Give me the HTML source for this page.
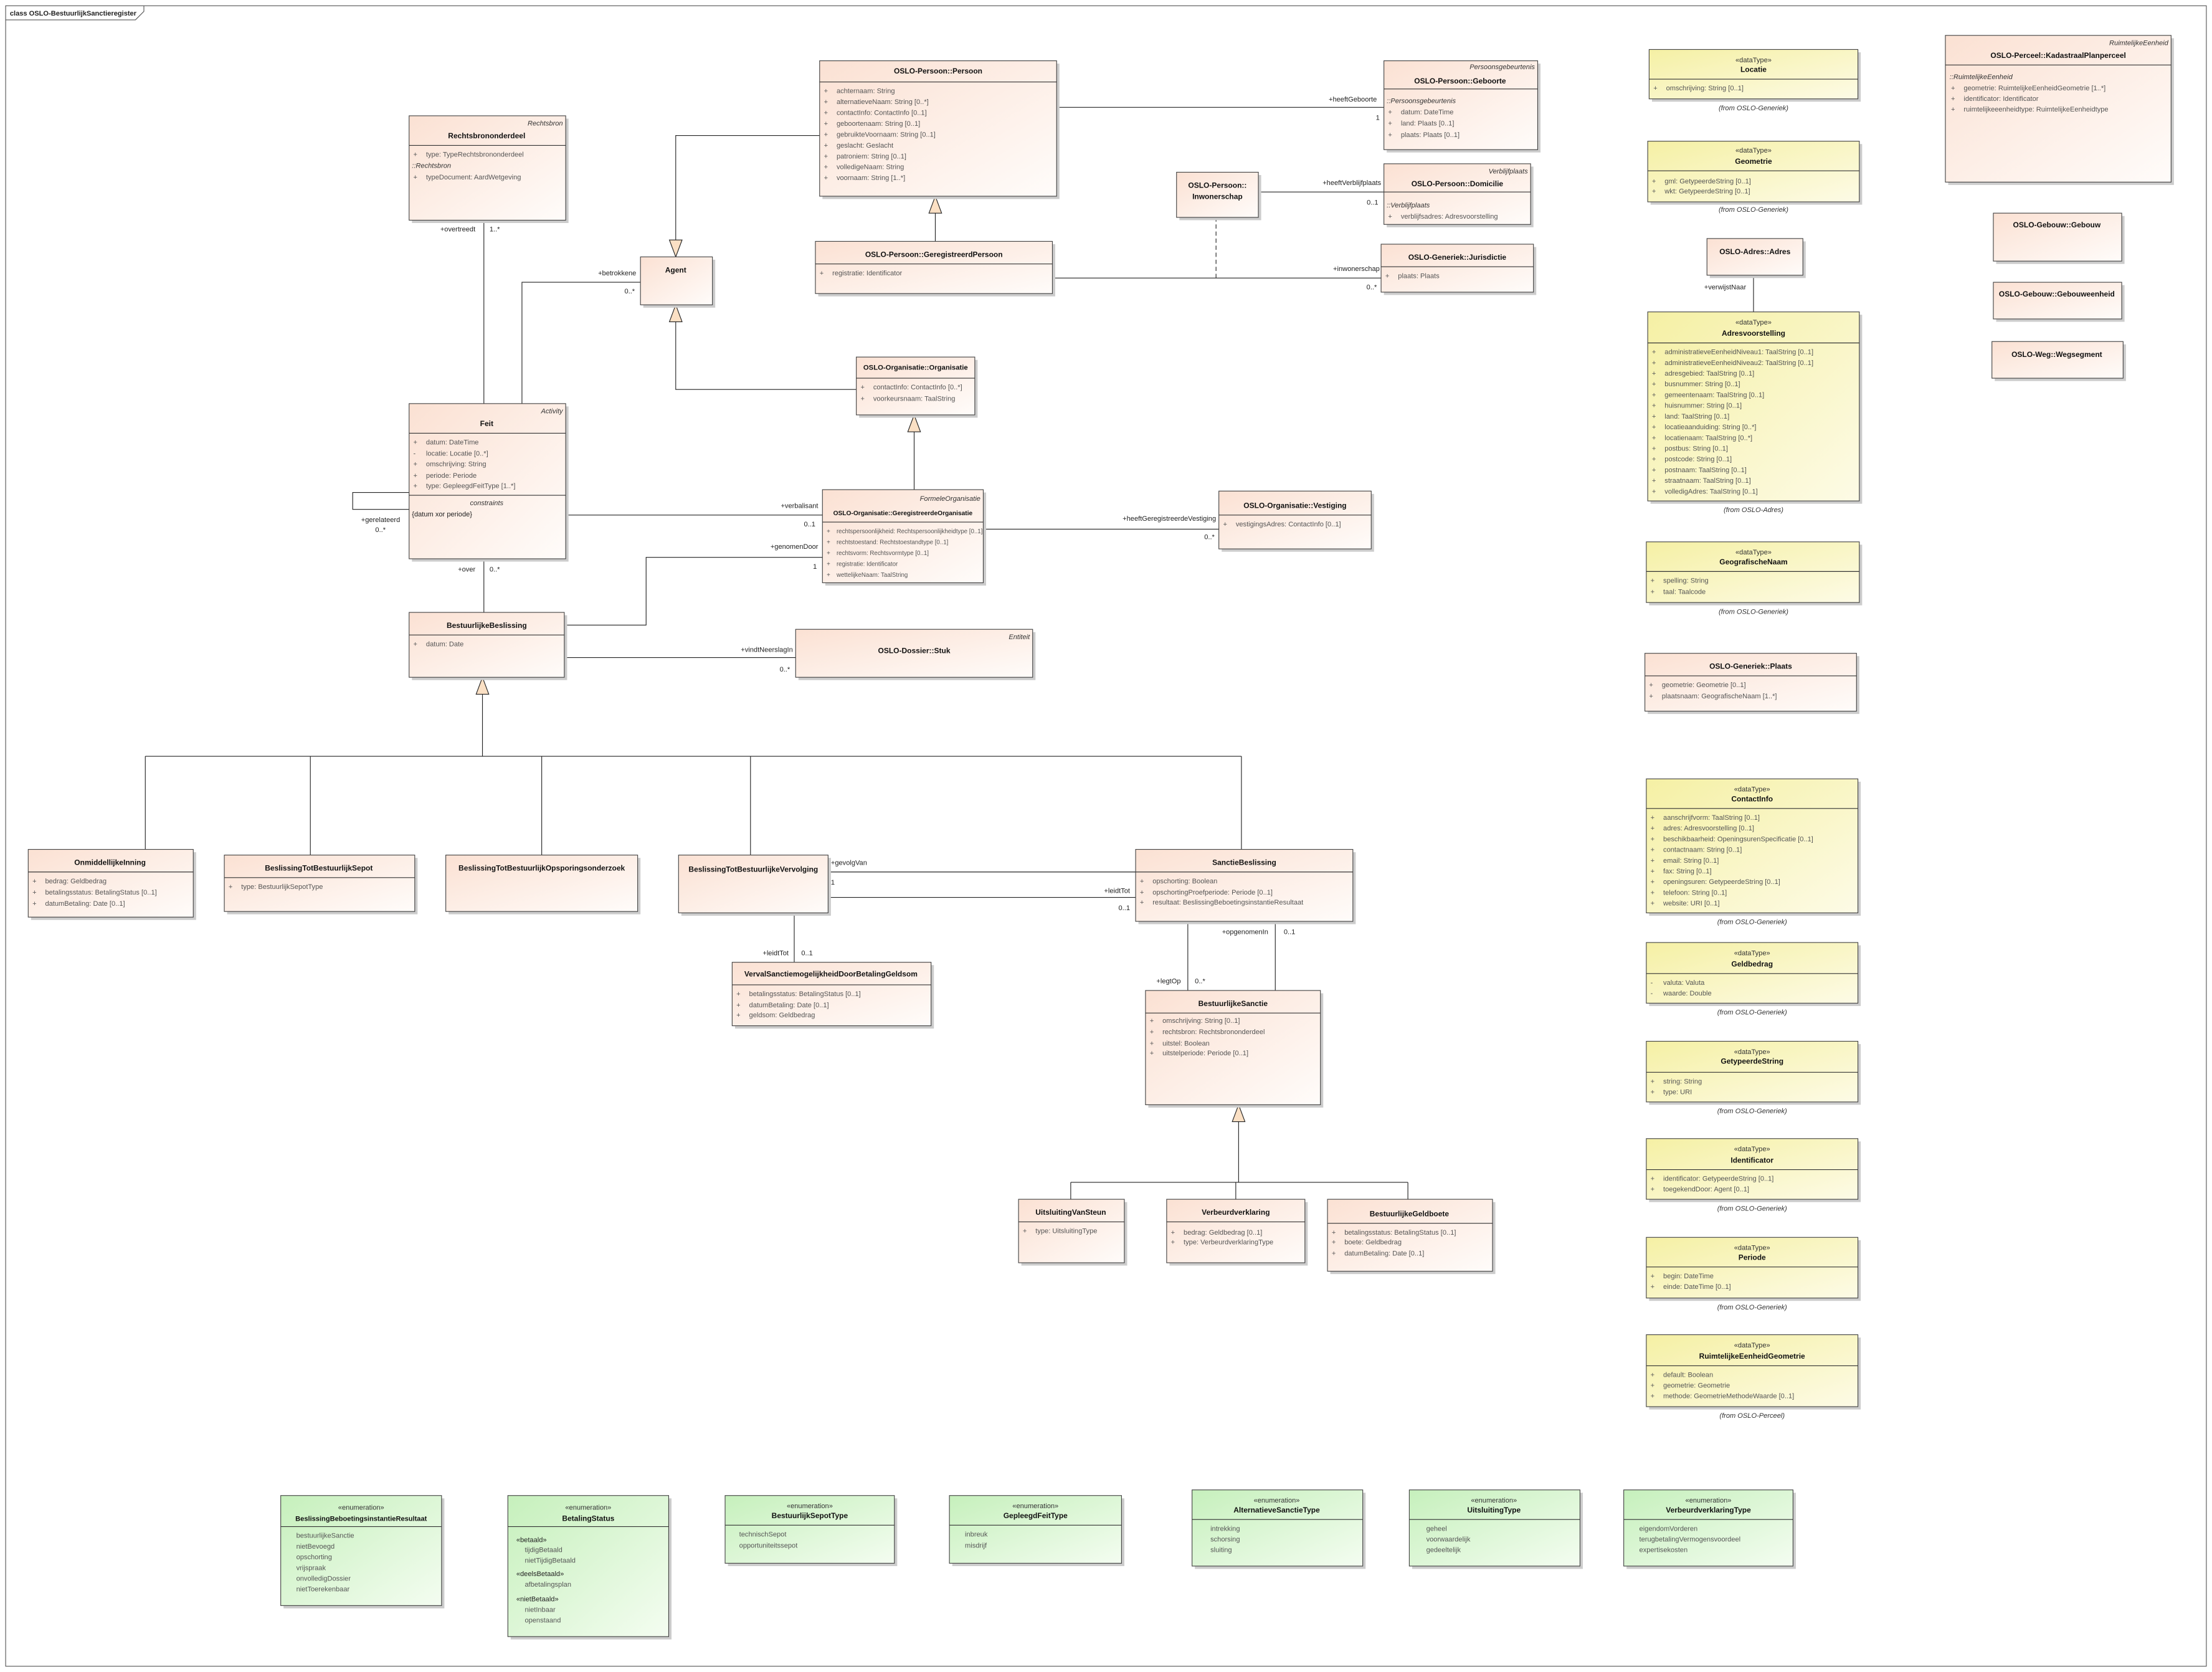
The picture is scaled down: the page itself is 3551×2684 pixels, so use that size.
<!DOCTYPE html>
<html><head><meta charset="utf-8"><style>
html,body{margin:0;padding:0;background:#fff;}
svg{display:block;}
text{font-family:"Liberation Sans",sans-serif;}
.t{font-size:5.3px;font-weight:bold;fill:#111;text-anchor:middle;}
.a{font-size:4.9px;fill:#555;}
.s{font-size:4.9px;fill:#333;text-anchor:middle;}
.i{font-size:4.9px;font-style:italic;fill:#333;}
.ir{font-size:4.9px;font-style:italic;fill:#333;text-anchor:end;}
.f{font-size:4.9px;font-style:italic;fill:#333;text-anchor:middle;}
.l{font-size:4.9px;fill:#222;}
.lr{font-size:4.9px;fill:#222;text-anchor:end;}
.bx{stroke:#444;stroke-width:0.5;}
.sh{fill:#ccc;}
.ln{stroke:#222;stroke-width:0.5;fill:none;}
.sep{stroke:#333;stroke-width:0.5;}
.tri{fill:#fbe0c4;stroke:#222;stroke-width:0.5;}
</style></head><body>
<svg width="3551" height="2684" viewBox="0 0 1568 1185" xmlns="http://www.w3.org/2000/svg">
<defs>
<linearGradient id="p" x1="0" y1="0" x2="1" y2="1"><stop offset="0" stop-color="#fbe1d3"/><stop offset="1" stop-color="#fffcfa"/></linearGradient>
<linearGradient id="y" x1="0" y1="0" x2="1" y2="1"><stop offset="0" stop-color="#f5f0a4"/><stop offset="1" stop-color="#fdfbe6"/></linearGradient>
<linearGradient id="g" x1="0" y1="0" x2="1" y2="1"><stop offset="0" stop-color="#c6f0bc"/><stop offset="1" stop-color="#f4fdf1"/></linearGradient>
</defs>
<rect x="0" y="0" width="1568" height="1185" fill="#fff"/>
<rect x="4" y="4" width="1560" height="1177" fill="none" stroke="#555" stroke-width="0.5"/>
<path d="M4 14 H96 L102 8 V4" fill="none" stroke="#555" stroke-width="0.5"/>
<text x="7" y="11" style="font-size:4.9px;font-weight:bold;fill:#222">class OSLO-BestuurlijkSanctieregister</text>

<g class="ln">
<path d="M749 76 H981"/>
<path d="M581 96 H479 V170"/>
<path d="M663 171 V151"/>
<path d="M892 136 H981"/>
<path d="M862 154 V197" stroke-dasharray="3,2"/>
<path d="M746 197 H979"/>
<path d="M343 156 V286"/>
<path d="M370 286 V200 H454"/>
<path d="M607 276 H479 V228"/>
<path d="M648 347 V306"/>
<path d="M401 365 H583"/>
<path d="M290 349 H250 V361 H290"/>
<path d="M697 375 H864"/>
<path d="M400 443 H458 V395 H583"/>
<path d="M343 396 V434"/>
<path d="M400 466 H564"/>
<path d="M342 492 V536"/>
<path d="M103 536 H880"/>
<path d="M103 536 V602 M220 536 V606 M384 536 V606 M532 536 V606 M880 536 V602"/>
<path d="M587 618 H805"/>
<path d="M587 636 H805"/>
<path d="M563 647 V682"/>
<path d="M842 653 V702"/>
<path d="M904 653 V702"/>
<path d="M878 795 V838 M759 838 H998 M759 838 V850 M876 838 V850 M998 838 V850"/>
<path d="M1243 195 V221"/>
</g>
<polygon class="tri" points="479,182 474.5,170 483.5,170"/>
<polygon class="tri" points="663,139 658.5,151 667.5,151"/>
<polygon class="tri" points="479,216 474.5,228 483.5,228"/>
<polygon class="tri" points="648,294 643.5,306 652.5,306"/>
<polygon class="tri" points="342,480 337.5,492 346.5,492"/>
<polygon class="tri" points="878,783 873.5,795 882.5,795"/>

<text class="lr" x="976" y="72">+heeftGeboorte</text><text class="lr" x="978" y="85">1</text>
<text class="lr" x="979" y="131">+heeftVerblijfplaats</text><text class="lr" x="977" y="145">0..1</text>
<text class="lr" x="978" y="192">+inwonerschap</text><text class="lr" x="976" y="205">0..*</text>
<text class="lr" x="337" y="164">+overtreedt</text><text class="l" x="347" y="164">1..*</text>
<text class="lr" x="451" y="195">+betrokkene</text><text class="lr" x="450" y="208">0..*</text>
<text class="lr" x="580" y="360">+verbalisant</text><text class="lr" x="578" y="373">0..1</text>
<text class="l" x="256" y="370">+gerelateerd</text><text class="l" x="266" y="377">0..*</text>
<text class="lr" x="862" y="369">+heeftGeregistreerdeVestiging</text><text class="lr" x="861" y="382">0..*</text>
<text class="lr" x="580" y="389">+genomenDoor</text><text class="lr" x="579" y="403">1</text>
<text class="lr" x="337" y="405">+over</text><text class="l" x="347" y="405">0..*</text>
<text class="lr" x="562" y="462">+vindtNeerslagIn</text><text class="lr" x="560" y="476">0..*</text>
<text class="l" x="589" y="613">+gevolgVan</text><text class="l" x="589" y="627">1</text>
<text class="lr" x="801" y="633">+leidtTot</text><text class="lr" x="801" y="645">0..1</text>
<text class="lr" x="559" y="677">+leidtTot</text><text class="l" x="568" y="677">0..1</text>
<text class="lr" x="837" y="697">+legtOp</text><text class="l" x="847" y="697">0..*</text>
<text class="lr" x="899" y="662">+opgenomenIn</text><text class="l" x="910" y="662">0..1</text>
<text class="l" x="1208" y="205">+verwijstNaar</text>

<rect class="sh" x="583" y="45" width="168" height="96"/>
<rect class="bx" x="581" y="43" width="168" height="96" fill="url(#p)"/>
<text class="t" x="665" y="52">OSLO-Persoon::Persoon</text>
<line class="sep" x1="581" y1="58" x2="749" y2="58"/>
<g class="a"><text x="584" y="66">+</text><text x="593" y="66">achternaam: String</text>
<text x="584" y="73.7">+</text><text x="593" y="73.7">alternatieveNaam: String [0..*]</text>
<text x="584" y="81.4">+</text><text x="593" y="81.4">contactInfo: ContactInfo [0..1]</text>
<text x="584" y="89.1">+</text><text x="593" y="89.1">geboortenaam: String [0..1]</text>
<text x="584" y="96.8">+</text><text x="593" y="96.8">gebruikteVoornaam: String [0..1]</text>
<text x="584" y="104.5">+</text><text x="593" y="104.5">geslacht: Geslacht</text>
<text x="584" y="112.2">+</text><text x="593" y="112.2">patroniem: String [0..1]</text>
<text x="584" y="119.9">+</text><text x="593" y="119.9">volledigeNaam: String</text>
<text x="584" y="127.6">+</text><text x="593" y="127.6">voornaam: String [1..*]</text></g>

<rect class="sh" x="983" y="45" width="109" height="63"/>
<rect class="bx" x="981" y="43" width="109" height="63" fill="url(#p)"/>
<text class="ir" x="1088" y="49">Persoonsgebeurtenis</text>
<text class="t" x="1035" y="59">OSLO-Persoon::Geboorte</text>
<line class="sep" x1="981" y1="63" x2="1090" y2="63"/>
<text class="i" x="983" y="73">::Persoonsgebeurtenis</text>
<g class="a"><text x="984" y="81">+</text><text x="993" y="81">datum: DateTime</text>
<text x="984" y="89">+</text><text x="993" y="89">land: Plaats [0..1]</text>
<text x="984" y="97">+</text><text x="993" y="97">plaats: Plaats [0..1]</text></g>

<rect class="sh" x="292" y="84" width="111" height="74"/>
<rect class="bx" x="290" y="82" width="111" height="74" fill="url(#p)"/>
<text class="ir" x="399" y="89">Rechtsbron</text>
<text class="t" x="345" y="98">Rechtsbrononderdeel</text>
<line class="sep" x1="290" y1="103" x2="401" y2="103"/>
<g class="a"><text x="293" y="111">+</text><text x="302" y="111">type: TypeRechtsbrononderdeel</text></g>
<text class="i" x="292" y="119">::Rechtsbron</text>
<g class="a"><text x="293" y="127">+</text><text x="302" y="127">typeDocument: AardWetgeving</text></g>

<rect class="sh" x="836" y="124" width="58" height="32"/>
<rect class="bx" x="834" y="122" width="58" height="32" fill="url(#p)"/>
<text class="t" x="863" y="133">OSLO-Persoon::</text>
<text class="t" x="863" y="141">Inwonerschap</text>

<rect class="sh" x="983" y="118" width="104" height="43"/>
<rect class="bx" x="981" y="116" width="104" height="43" fill="url(#p)"/>
<text class="ir" x="1083" y="123">Verblijfplaats</text>
<text class="t" x="1033" y="132">OSLO-Persoon::Domicilie</text>
<line class="sep" x1="981" y1="136" x2="1085" y2="136"/>
<text class="i" x="983" y="147">::Verblijfplaats</text>
<g class="a"><text x="984" y="155">+</text><text x="993" y="155">verblijfsadres: Adresvoorstelling</text></g>

<rect class="sh" x="580" y="173" width="168" height="37"/>
<rect class="bx" x="578" y="171" width="168" height="37" fill="url(#p)"/>
<text class="t" x="662" y="182">OSLO-Persoon::GeregistreerdPersoon</text>
<line class="sep" x1="578" y1="187" x2="746" y2="187"/>
<g class="a"><text x="581" y="195">+</text><text x="590" y="195">registratie: Identificator</text></g>

<rect class="sh" x="981" y="175" width="108" height="34"/>
<rect class="bx" x="979" y="173" width="108" height="34" fill="url(#p)"/>
<text class="t" x="1033" y="184">OSLO-Generiek::Jurisdictie</text>
<line class="sep" x1="979" y1="189" x2="1087" y2="189"/>
<g class="a"><text x="982" y="197">+</text><text x="991" y="197">plaats: Plaats</text></g>

<rect class="sh" x="456" y="184" width="51" height="34"/>
<rect class="bx" x="454" y="182" width="51" height="34" fill="url(#p)"/>
<text class="t" x="479" y="193">Agent</text>

<rect class="sh" x="609" y="255" width="84" height="41"/>
<rect class="bx" x="607" y="253" width="84" height="41" fill="url(#p)"/>
<text class="t" x="649" y="262" style="font-size:5px">OSLO-Organisatie::Organisatie</text>
<line class="sep" x1="607" y1="268" x2="691" y2="268"/>
<g class="a"><text x="610" y="276">+</text><text x="619" y="276">contactInfo: ContactInfo [0..*]</text>
<text x="610" y="284">+</text><text x="619" y="284">voorkeursnaam: TaalString</text></g>

<rect class="sh" x="292" y="288" width="111" height="110"/>
<rect class="bx" x="290" y="286" width="111" height="110" fill="url(#p)"/>
<text class="ir" x="399" y="293">Activity</text>
<text class="t" x="345" y="302">Feit</text>
<line class="sep" x1="290" y1="307" x2="401" y2="307"/>
<g class="a"><text x="293" y="315">+</text><text x="302" y="315">datum: DateTime</text>
<text x="293" y="323">-</text><text x="302" y="323">locatie: Locatie [0..*]</text>
<text x="293" y="330.5">+</text><text x="302" y="330.5">omschrijving: String</text>
<text x="293" y="338.5">+</text><text x="302" y="338.5">periode: Periode</text>
<text x="293" y="346">+</text><text x="302" y="346">type: GepleegdFeitType [1..*]</text></g>
<line class="sep" x1="290" y1="351" x2="401" y2="351"/>
<text class="f" x="345" y="358">constraints</text>
<text class="l" x="292" y="366">{datum xor periode}</text>

<rect class="sh" x="585" y="349" width="114" height="66"/>
<rect class="bx" x="583" y="347" width="114" height="66" fill="url(#p)"/>
<text class="ir" x="695" y="355">FormeleOrganisatie</text>
<text class="t" x="640" y="365" style="font-size:4.5px">OSLO-Organisatie::GeregistreerdeOrganisatie</text>
<line class="sep" x1="583" y1="370" x2="697" y2="370"/>
<g class="a" style="font-size:4.3px"><text x="586" y="378">+</text><text x="593" y="378">rechtspersoonlijkheid: Rechtspersoonlijkheidtype [0..1]</text>
<text x="586" y="385.7">+</text><text x="593" y="385.7">rechtstoestand: Rechtstoestandtype [0..1]</text>
<text x="586" y="393.4">+</text><text x="593" y="393.4">rechtsvorm: Rechtsvormtype [0..1]</text>
<text x="586" y="401.1">+</text><text x="593" y="401.1">registratie: Identificator</text>
<text x="586" y="408.8">+</text><text x="593" y="408.8">wettelijkeNaam: TaalString</text></g>

<rect class="sh" x="866" y="350" width="108" height="41"/>
<rect class="bx" x="864" y="348" width="108" height="41" fill="url(#p)"/>
<text class="t" x="918" y="360">OSLO-Organisatie::Vestiging</text>
<line class="sep" x1="864" y1="365" x2="972" y2="365"/>
<g class="a"><text x="867" y="373">+</text><text x="876" y="373">vestigingsAdres: ContactInfo [0..1]</text></g>

<rect class="sh" x="292" y="436" width="110" height="46"/>
<rect class="bx" x="290" y="434" width="110" height="46" fill="url(#p)"/>
<text class="t" x="345" y="445">BestuurlijkeBeslissing</text>
<line class="sep" x1="290" y1="450" x2="400" y2="450"/>
<g class="a"><text x="293" y="458">+</text><text x="302" y="458">datum: Date</text></g>

<rect class="sh" x="566" y="448" width="168" height="34"/>
<rect class="bx" x="564" y="446" width="168" height="34" fill="url(#p)"/>
<text class="ir" x="730" y="453">Entiteit</text>
<text class="t" x="648" y="463">OSLO-Dossier::Stuk</text>

<rect class="sh" x="22" y="604" width="117" height="48"/>
<rect class="bx" x="20" y="602" width="117" height="48" fill="url(#p)"/>
<text class="t" x="78" y="613">OnmiddellijkeInning</text>
<line class="sep" x1="20" y1="618" x2="137" y2="618"/>
<g class="a"><text x="23" y="626">+</text><text x="32" y="626">bedrag: Geldbedrag</text>
<text x="23" y="634">+</text><text x="32" y="634">betalingsstatus: BetalingStatus [0..1]</text>
<text x="23" y="642">+</text><text x="32" y="642">datumBetaling: Date [0..1]</text></g>

<rect class="sh" x="161" y="608" width="135" height="40"/>
<rect class="bx" x="159" y="606" width="135" height="40" fill="url(#p)"/>
<text class="t" x="226" y="617">BeslissingTotBestuurlijkSepot</text>
<line class="sep" x1="159" y1="622" x2="294" y2="622"/>
<g class="a"><text x="162" y="630">+</text><text x="171" y="630">type: BestuurlijkSepotType</text></g>

<rect class="sh" x="318" y="608" width="136" height="40"/>
<rect class="bx" x="316" y="606" width="136" height="40" fill="url(#p)"/>
<text class="t" x="384" y="617">BeslissingTotBestuurlijkOpsporingsonderzoek</text>

<rect class="sh" x="483" y="608" width="106" height="41"/>
<rect class="bx" x="481" y="606" width="106" height="41" fill="url(#p)"/>
<text class="t" x="534" y="618">BeslissingTotBestuurlijkeVervolging</text>

<rect class="sh" x="807" y="604" width="154" height="51"/>
<rect class="bx" x="805" y="602" width="154" height="51" fill="url(#p)"/>
<text class="t" x="882" y="613">SanctieBeslissing</text>
<line class="sep" x1="805" y1="618" x2="959" y2="618"/>
<g class="a"><text x="808" y="626">+</text><text x="817" y="626">opschorting: Boolean</text>
<text x="808" y="634">+</text><text x="817" y="634">opschortingProefperiode: Periode [0..1]</text>
<text x="808" y="641">+</text><text x="817" y="641">resultaat: BeslissingBeboetingsinstantieResultaat</text></g>

<rect class="sh" x="521" y="684" width="141" height="45"/>
<rect class="bx" x="519" y="682" width="141" height="45" fill="url(#p)"/>
<text class="t" x="589" y="692">VervalSanctiemogelijkheidDoorBetalingGeldsom</text>
<line class="sep" x1="519" y1="698" x2="660" y2="698"/>
<g class="a"><text x="522" y="706">+</text><text x="531" y="706">betalingsstatus: BetalingStatus [0..1]</text>
<text x="522" y="714">+</text><text x="531" y="714">datumBetaling: Date [0..1]</text>
<text x="522" y="721">+</text><text x="531" y="721">geldsom: Geldbedrag</text></g>

<rect class="sh" x="814" y="704" width="124" height="81"/>
<rect class="bx" x="812" y="702" width="124" height="81" fill="url(#p)"/>
<text class="t" x="874" y="713">BestuurlijkeSanctie</text>
<line class="sep" x1="812" y1="718" x2="936" y2="718"/>
<g class="a"><text x="815" y="725">+</text><text x="824" y="725">omschrijving: String [0..1]</text>
<text x="815" y="733">+</text><text x="824" y="733">rechtsbron: Rechtsbrononderdeel</text>
<text x="815" y="741">+</text><text x="824" y="741">uitstel: Boolean</text>
<text x="815" y="748">+</text><text x="824" y="748">uitstelperiode: Periode [0..1]</text></g>

<rect class="sh" x="724" y="852" width="75" height="45"/>
<rect class="bx" x="722" y="850" width="75" height="45" fill="url(#p)"/>
<text class="t" x="759" y="861">UitsluitingVanSteun</text>
<line class="sep" x1="722" y1="866" x2="797" y2="866"/>
<g class="a"><text x="725" y="874">+</text><text x="734" y="874">type: UitsluitingType</text></g>

<rect class="sh" x="829" y="852" width="98" height="45"/>
<rect class="bx" x="827" y="850" width="98" height="45" fill="url(#p)"/>
<text class="t" x="876" y="861">Verbeurdverklaring</text>
<line class="sep" x1="827" y1="866" x2="925" y2="866"/>
<g class="a"><text x="830" y="875">+</text><text x="839" y="875">bedrag: Geldbedrag [0..1]</text>
<text x="830" y="882">+</text><text x="839" y="882">type: VerbeurdverklaringType</text></g>

<rect class="sh" x="943" y="852" width="117" height="51"/>
<rect class="bx" x="941" y="850" width="117" height="51" fill="url(#p)"/>
<text class="t" x="999" y="862">BestuurlijkeGeldboete</text>
<line class="sep" x1="941" y1="867" x2="1058" y2="867"/>
<g class="a"><text x="944" y="875">+</text><text x="953" y="875">betalingsstatus: BetalingStatus [0..1]</text>
<text x="944" y="882">+</text><text x="953" y="882">boete: Geldbedrag</text>
<text x="944" y="890">+</text><text x="953" y="890">datumBetaling: Date [0..1]</text></g>

<rect class="sh" x="1381" y="27" width="160" height="104"/>
<rect class="bx" x="1379" y="25" width="160" height="104" fill="url(#p)"/>
<text class="ir" x="1537" y="32">RuimtelijkeEenheid</text>
<text class="t" x="1459" y="41">OSLO-Perceel::KadastraalPlanperceel</text>
<line class="sep" x1="1379" y1="46" x2="1539" y2="46"/>
<text class="i" x="1382" y="56">::RuimtelijkeEenheid</text>
<g class="a"><text x="1383" y="64">+</text><text x="1392" y="64">geometrie: RuimtelijkeEenheidGeometrie [1..*]</text>
<text x="1383" y="71.5">+</text><text x="1392" y="71.5">identificator: Identificator</text>
<text x="1383" y="79">+</text><text x="1392" y="79">ruimtelijkeeenheidtype: RuimtelijkeEenheidtype</text></g>

<rect class="sh" x="1415" y="153" width="91" height="34"/>
<rect class="bx" x="1413" y="151" width="91" height="34" fill="url(#p)"/>
<text class="t" x="1458" y="161">OSLO-Gebouw::Gebouw</text>
<rect class="sh" x="1415" y="202" width="91" height="26"/>
<rect class="bx" x="1413" y="200" width="91" height="26" fill="url(#p)"/>
<text class="t" x="1458" y="210">OSLO-Gebouw::Gebouweenheid</text>
<rect class="sh" x="1414" y="244" width="93" height="26"/>
<rect class="bx" x="1412" y="242" width="93" height="26" fill="url(#p)"/>
<text class="t" x="1458" y="253">OSLO-Weg::Wegsegment</text>

<rect class="sh" x="1212" y="171" width="68" height="26"/>
<rect class="bx" x="1210" y="169" width="68" height="26" fill="url(#p)"/>
<text class="t" x="1244" y="180">OSLO-Adres::Adres</text>

<rect class="sh" x="1168" y="465" width="150" height="41"/>
<rect class="bx" x="1166" y="463" width="150" height="41" fill="url(#p)"/>
<text class="t" x="1241" y="474">OSLO-Generiek::Plaats</text>
<line class="sep" x1="1166" y1="479" x2="1316" y2="479"/>
<g class="a"><text x="1169" y="487">+</text><text x="1178" y="487">geometrie: Geometrie [0..1]</text>
<text x="1169" y="495">+</text><text x="1178" y="495">plaatsnaam: GeografischeNaam [1..*]</text></g>

<rect class="sh" x="1171" y="37" width="148" height="35"/>
<rect class="bx" x="1169" y="35" width="148" height="35" fill="url(#y)"/>
<text class="s" x="1243" y="44">«dataType»</text>
<text class="t" x="1243" y="51">Locatie</text>
<line class="sep" x1="1169" y1="56" x2="1317" y2="56"/>
<g class="a"><text x="1172" y="64">+</text><text x="1181" y="64">omschrijving: String [0..1]</text></g>
<text class="f" x="1243" y="78">(from OSLO-Generiek)</text>

<rect class="sh" x="1170" y="102" width="150" height="43"/>
<rect class="bx" x="1168" y="100" width="150" height="43" fill="url(#y)"/>
<text class="s" x="1243" y="108">«dataType»</text>
<text class="t" x="1243" y="116">Geometrie</text>
<line class="sep" x1="1168" y1="121" x2="1318" y2="121"/>
<g class="a"><text x="1171" y="130">+</text><text x="1180" y="130">gml: GetypeerdeString [0..1]</text>
<text x="1171" y="137">+</text><text x="1180" y="137">wkt: GetypeerdeString [0..1]</text></g>
<text class="f" x="1243" y="150">(from OSLO-Generiek)</text>

<rect class="sh" x="1170" y="223" width="150" height="134"/>
<rect class="bx" x="1168" y="221" width="150" height="134" fill="url(#y)"/>
<text class="s" x="1243" y="230">«dataType»</text>
<text class="t" x="1243" y="238">Adresvoorstelling</text>
<line class="sep" x1="1168" y1="243" x2="1318" y2="243"/>
<g class="a">
<text x="1171" y="251">+</text><text x="1180" y="251">administratieveEenheidNiveau1: TaalString [0..1]</text>
<text x="1171" y="258.6">+</text><text x="1180" y="258.6">administratieveEenheidNiveau2: TaalString [0..1]</text>
<text x="1171" y="266.2">+</text><text x="1180" y="266.2">adresgebied: TaalString [0..1]</text>
<text x="1171" y="273.8">+</text><text x="1180" y="273.8">busnummer: String [0..1]</text>
<text x="1171" y="281.4">+</text><text x="1180" y="281.4">gemeentenaam: TaalString [0..1]</text>
<text x="1171" y="289">+</text><text x="1180" y="289">huisnummer: String [0..1]</text>
<text x="1171" y="296.6">+</text><text x="1180" y="296.6">land: TaalString [0..1]</text>
<text x="1171" y="304.2">+</text><text x="1180" y="304.2">locatieaanduiding: String [0..*]</text>
<text x="1171" y="311.8">+</text><text x="1180" y="311.8">locatienaam: TaalString [0..*]</text>
<text x="1171" y="319.4">+</text><text x="1180" y="319.4">postbus: String [0..1]</text>
<text x="1171" y="327">+</text><text x="1180" y="327">postcode: String [0..1]</text>
<text x="1171" y="334.6">+</text><text x="1180" y="334.6">postnaam: TaalString [0..1]</text>
<text x="1171" y="342.2">+</text><text x="1180" y="342.2">straatnaam: TaalString [0..1]</text>
<text x="1171" y="349.8">+</text><text x="1180" y="349.8">volledigAdres: TaalString [0..1]</text></g>
<text class="f" x="1243" y="363">(from OSLO-Adres)</text>

<rect class="sh" x="1169" y="386" width="151" height="43"/>
<rect class="bx" x="1167" y="384" width="151" height="43" fill="url(#y)"/>
<text class="s" x="1243" y="393">«dataType»</text>
<text class="t" x="1243" y="400">GeografischeNaam</text>
<line class="sep" x1="1167" y1="405" x2="1318" y2="405"/>
<g class="a"><text x="1170" y="413">+</text><text x="1179" y="413">spelling: String</text>
<text x="1170" y="421">+</text><text x="1179" y="421">taal: Taalcode</text></g>
<text class="f" x="1243" y="435">(from OSLO-Generiek)</text>

<rect class="sh" x="1169" y="554" width="150" height="95"/>
<rect class="bx" x="1167" y="552" width="150" height="95" fill="url(#y)"/>
<text class="s" x="1242" y="561">«dataType»</text>
<text class="t" x="1242" y="568">ContactInfo</text>
<line class="sep" x1="1167" y1="573" x2="1317" y2="573"/>
<g class="a">
<text x="1170" y="581">+</text><text x="1179" y="581">aanschrijfvorm: TaalString [0..1]</text>
<text x="1170" y="588.6">+</text><text x="1179" y="588.6">adres: Adresvoorstelling [0..1]</text>
<text x="1170" y="596.2">+</text><text x="1179" y="596.2">beschikbaarheid: OpeningsurenSpecificatie [0..1]</text>
<text x="1170" y="603.8">+</text><text x="1179" y="603.8">contactnaam: String [0..1]</text>
<text x="1170" y="611.4">+</text><text x="1179" y="611.4">email: String [0..1]</text>
<text x="1170" y="619">+</text><text x="1179" y="619">fax: String [0..1]</text>
<text x="1170" y="626.6">+</text><text x="1179" y="626.6">openingsuren: GetypeerdeString [0..1]</text>
<text x="1170" y="634.2">+</text><text x="1179" y="634.2">telefoon: String [0..1]</text>
<text x="1170" y="641.8">+</text><text x="1179" y="641.8">website: URI [0..1]</text></g>
<text class="f" x="1242" y="655">(from OSLO-Generiek)</text>

<rect class="sh" x="1169" y="670" width="150" height="43"/>
<rect class="bx" x="1167" y="668" width="150" height="43" fill="url(#y)"/>
<text class="s" x="1242" y="677">«dataType»</text>
<text class="t" x="1242" y="685">Geldbedrag</text>
<line class="sep" x1="1167" y1="690" x2="1317" y2="690"/>
<g class="a"><text x="1170" y="698">-</text><text x="1179" y="698">valuta: Valuta</text>
<text x="1170" y="705.5">-</text><text x="1179" y="705.5">waarde: Double</text></g>
<text class="f" x="1242" y="719">(from OSLO-Generiek)</text>

<rect class="sh" x="1169" y="740" width="150" height="43"/>
<rect class="bx" x="1167" y="738" width="150" height="43" fill="url(#y)"/>
<text class="s" x="1242" y="747">«dataType»</text>
<text class="t" x="1242" y="754">GetypeerdeString</text>
<line class="sep" x1="1167" y1="760" x2="1317" y2="760"/>
<g class="a"><text x="1170" y="768">+</text><text x="1179" y="768">string: String</text>
<text x="1170" y="775.5">+</text><text x="1179" y="775.5">type: URI</text></g>
<text class="f" x="1242" y="789">(from OSLO-Generiek)</text>

<rect class="sh" x="1169" y="809" width="150" height="43"/>
<rect class="bx" x="1167" y="807" width="150" height="43" fill="url(#y)"/>
<text class="s" x="1242" y="816">«dataType»</text>
<text class="t" x="1242" y="824">Identificator</text>
<line class="sep" x1="1167" y1="829" x2="1317" y2="829"/>
<g class="a"><text x="1170" y="837">+</text><text x="1179" y="837">identificator: GetypeerdeString [0..1]</text>
<text x="1170" y="844.5">+</text><text x="1179" y="844.5">toegekendDoor: Agent [0..1]</text></g>
<text class="f" x="1242" y="858">(from OSLO-Generiek)</text>

<rect class="sh" x="1169" y="879" width="150" height="43"/>
<rect class="bx" x="1167" y="877" width="150" height="43" fill="url(#y)"/>
<text class="s" x="1242" y="886">«dataType»</text>
<text class="t" x="1242" y="893">Periode</text>
<line class="sep" x1="1167" y1="898" x2="1317" y2="898"/>
<g class="a"><text x="1170" y="906">+</text><text x="1179" y="906">begin: DateTime</text>
<text x="1170" y="913.5">+</text><text x="1179" y="913.5">einde: DateTime [0..1]</text></g>
<text class="f" x="1242" y="928">(from OSLO-Generiek)</text>

<rect class="sh" x="1169" y="948" width="150" height="51"/>
<rect class="bx" x="1167" y="946" width="150" height="51" fill="url(#y)"/>
<text class="s" x="1242" y="955">«dataType»</text>
<text class="t" x="1242" y="963">RuimtelijkeEenheidGeometrie</text>
<line class="sep" x1="1167" y1="968" x2="1317" y2="968"/>
<g class="a"><text x="1170" y="976">+</text><text x="1179" y="976">default: Boolean</text>
<text x="1170" y="983.5">+</text><text x="1179" y="983.5">geometrie: Geometrie</text>
<text x="1170" y="991">+</text><text x="1179" y="991">methode: GeometrieMethodeWaarde [0..1]</text></g>
<text class="f" x="1242" y="1005">(from OSLO-Perceel)</text>

<rect class="sh" x="201" y="1062" width="114" height="78"/>
<rect class="bx" x="199" y="1060" width="114" height="78" fill="url(#g)"/>
<text class="s" x="256" y="1070">«enumeration»</text>
<text class="t" x="256" y="1078" style="font-size:4.9px">BeslissingBeboetingsinstantieResultaat</text>
<line class="sep" x1="199" y1="1082" x2="313" y2="1082"/>
<g class="a"><text x="210" y="1090">bestuurlijkeSanctie</text><text x="210" y="1097.6">nietBevoegd</text><text x="210" y="1105.2">opschorting</text><text x="210" y="1112.8">vrijspraak</text><text x="210" y="1120.4">onvolledigDossier</text><text x="210" y="1128">nietToerekenbaar</text></g>

<rect class="sh" x="362" y="1062" width="114" height="100"/>
<rect class="bx" x="360" y="1060" width="114" height="100" fill="url(#g)"/>
<text class="s" x="417" y="1070">«enumeration»</text>
<text class="t" x="417" y="1078">BetalingStatus</text>
<line class="sep" x1="360" y1="1082" x2="474" y2="1082"/>
<text class="l" x="366" y="1093">«betaald»</text>
<g class="a"><text x="372" y="1100">tijdigBetaald</text><text x="372" y="1107.5">nietTijdigBetaald</text></g>
<text class="l" x="366" y="1117">«deelsBetaald»</text>
<g class="a"><text x="372" y="1124.5">afbetalingsplan</text></g>
<text class="l" x="366" y="1135">«nietBetaald»</text>
<g class="a"><text x="372" y="1142.5">nietInbaar</text><text x="372" y="1150">openstaand</text></g>

<rect class="sh" x="516" y="1062" width="120" height="48"/>
<rect class="bx" x="514" y="1060" width="120" height="48" fill="url(#g)"/>
<text class="s" x="574" y="1069">«enumeration»</text>
<text class="t" x="574" y="1076">BestuurlijkSepotType</text>
<line class="sep" x1="514" y1="1081" x2="634" y2="1081"/>
<g class="a"><text x="524" y="1089">technischSepot</text><text x="524" y="1097">opportuniteitssepot</text></g>

<rect class="sh" x="675" y="1062" width="122" height="48"/>
<rect class="bx" x="673" y="1060" width="122" height="48" fill="url(#g)"/>
<text class="s" x="734" y="1069">«enumeration»</text>
<text class="t" x="734" y="1076">GepleegdFeitType</text>
<line class="sep" x1="673" y1="1081" x2="795" y2="1081"/>
<g class="a"><text x="684" y="1089">inbreuk</text><text x="684" y="1097">misdrijf</text></g>

<rect class="sh" x="847" y="1058" width="121" height="54"/>
<rect class="bx" x="845" y="1056" width="121" height="54" fill="url(#g)"/>
<text class="s" x="905" y="1065">«enumeration»</text>
<text class="t" x="905" y="1072">AlternatieveSanctieType</text>
<line class="sep" x1="845" y1="1077" x2="966" y2="1077"/>
<g class="a"><text x="858" y="1085">intrekking</text><text x="858" y="1092.5">schorsing</text><text x="858" y="1100">sluiting</text></g>

<rect class="sh" x="1001" y="1058" width="121" height="54"/>
<rect class="bx" x="999" y="1056" width="121" height="54" fill="url(#g)"/>
<text class="s" x="1059" y="1065">«enumeration»</text>
<text class="t" x="1059" y="1072">UitsluitingType</text>
<line class="sep" x1="999" y1="1077" x2="1120" y2="1077"/>
<g class="a"><text x="1011" y="1085">geheel</text><text x="1011" y="1092.5">voorwaardelijk</text><text x="1011" y="1100">gedeeltelijk</text></g>

<rect class="sh" x="1153" y="1058" width="120" height="54"/>
<rect class="bx" x="1151" y="1056" width="120" height="54" fill="url(#g)"/>
<text class="s" x="1211" y="1065">«enumeration»</text>
<text class="t" x="1211" y="1072">VerbeurdverklaringType</text>
<line class="sep" x1="1151" y1="1077" x2="1271" y2="1077"/>
<g class="a"><text x="1162" y="1085">eigendomVorderen</text><text x="1162" y="1092.5">terugbetalingVermogensvoordeel</text><text x="1162" y="1100">expertisekosten</text></g>
</svg>
</body></html>
